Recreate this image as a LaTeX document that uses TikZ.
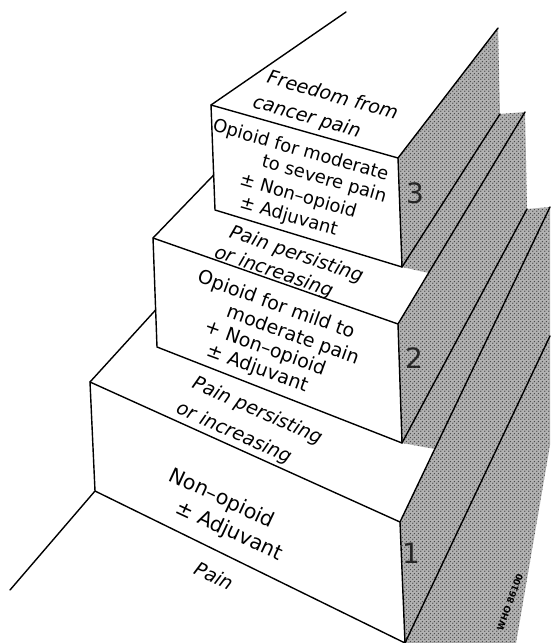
\documentclass[tikz,border=0pt]{standalone}
\usepackage{fontspec}
\setmainfont{DejaVu Sans}
\usetikzlibrary{patterns}
% coarse halftone screen for the shaded sides
\pgfdeclarepatternformonly{halftone}{\pgfqpoint{0pt}{0pt}}{\pgfqpoint{4pt}{4pt}}{\pgfqpoint{4pt}{4pt}}{%
  \pgfpathcircle{\pgfqpoint{1pt}{1pt}}{0.9pt}%
  \pgfpathcircle{\pgfqpoint{3pt}{3pt}}{0.9pt}%
  \pgfusepath{fill}}
\begin{document}
\begin{tikzpicture}[x=1pt,y=-1pt,
  edge/.style={line width=1.4pt, line join=round, line cap=round},
  frontlbl/.style={inner sep=0pt, anchor=west},
  treadlbl/.style={inner sep=0pt, anchor=west, font=\fontsize{19}{21}\selectfont\itshape},
  steplbl/.style={inner sep=0pt, font=\fontsize{28}{30}\selectfont, text=black!85},
  shadowfill/.style={fill=black!30, postaction={pattern=halftone, pattern color=black!70}}]

\useasboundingbox (0,0) rectangle (550,643);
\fill[white] (0,0) rectangle (550,643);

% step 3 (top block)
\coordinate (A3) at (211,105);
\coordinate (B3) at (398,158);
\coordinate (C3) at (402,267);
\coordinate (D3) at (215,210);
\coordinate (K3) at (346,12);
\coordinate (T3) at (498,28);
\coordinate (U3) at (500,114);
% step 2
\coordinate (A2) at (153,238);
\coordinate (B2) at (398,324);
\coordinate (C2) at (402,443);
\coordinate (D2) at (157,347);
\coordinate (K2) at (213.7,175);
\coordinate (T2) at (525,112);
\coordinate (U2) at (527,209);
\coordinate (S2) at (429,273);
% step 1
\coordinate (A1) at (90,382);
\coordinate (B1) at (400,522);
\coordinate (C1) at (405,643);
\coordinate (D1) at (95,491);
\coordinate (K1) at (155.6,310);
\coordinate (T1) at (550,207);
\coordinate (U1) at (550,336);
\coordinate (S1) at (435,449);
\coordinate (F0) at (10,590);
% edge of the shadow on the floor
\coordinate (E1) at (550,445);
\coordinate (E2) at (516,643);

% shaded side faces and cast shadow
\path[shadowfill] (B3) -- (T3) -- (U3) -- (T2) -- (U2) -- (T1) -- (E1) -- (E2)
  -- (C1) -- (B1) -- (S1) -- (C2) -- (B2) -- (S2) -- (C3) -- cycle;

% block outlines
\draw[edge] (A3) -- (B3) -- (C3) -- (D3) -- cycle;
\draw[edge] (A3) -- (K3);
\draw[edge] (B3) -- (T3);
\draw[edge] (C3) -- (U3);

\draw[edge] (A2) -- (B2) -- (C2) -- (D2) -- cycle;
\draw[edge] (A2) -- (K2);
\draw[edge] (B2) -- (T2);
\draw[edge] (C2) -- (U2);

\draw[edge] (A1) -- (B1) -- (C1) -- (D1) -- cycle;
\draw[edge] (A1) -- (K1);
\draw[edge] (B1) -- (T1);
\draw[edge] (C1) -- (U1);
\draw[edge] (D1) -- (F0);

% step 3 texts
\node[treadlbl, rotate=-16] (t3a) at (268,76) {Freedom from};
\node[treadlbl, rotate=-16] (t3b) at (253,102) {cancer pain};
\begin{scope}[every node/.style={frontlbl, rotate=-16, font=\fontsize{18}{20}\selectfont}]
  \node (f3a) at (213,126) {Opioid for moderate};
  \node (f3b) at (262,162) {to severe pain};
  \node (f3c) at (240,180) {± Non–opioid};
  \node (f3d) at (240,203) {± Adjuvant};
\end{scope}

% step 2 texts
\node[treadlbl, rotate=-19] (t2a) at (230,232) {Pain persisting};
\node[treadlbl, rotate=-19] (t2b) at (215,252) {or increasing};
\begin{scope}[every node/.style={frontlbl, rotate=-20, font=\fontsize{19}{21}\selectfont}]
  \node (f2a) at (198,277) {Opioid for mild to};
  \node (f2b) at (227,312) {moderate pain};
  \node (f2c) at (205,327) {+ Non–opioid};
  \node (f2d) at (207,351) {± Adjuvant};
\end{scope}

% step 1 texts
\node[treadlbl, rotate=-24] (t1a) at (193,383) {Pain persisting};
\node[treadlbl, rotate=-24] (t1b) at (177,408) {or increasing};
\begin{scope}[every node/.style={frontlbl, rotate=-25, font=\fontsize{20.5}{22}\selectfont}]
  \node (f1a) at (170,475) {Non–opioid};
  \node (f1b) at (177,507) {± Adjuvant};
\end{scope}
\node[treadlbl, anchor=center, rotate=-26] (floor) at (214,576) {Pain};

% step numbers
\node[steplbl] (n3) at (415,193) {3};
\node[steplbl] (n2) at (414,358) {2};
\node[steplbl] (n1) at (411,553) {1};

% stamp
\node[inner sep=0pt, rotate=70, font=\fontsize{9}{10}\selectfont\bfseries] (stamp) at (510,602) {WHO 86100};
\end{tikzpicture}
\end{document}
